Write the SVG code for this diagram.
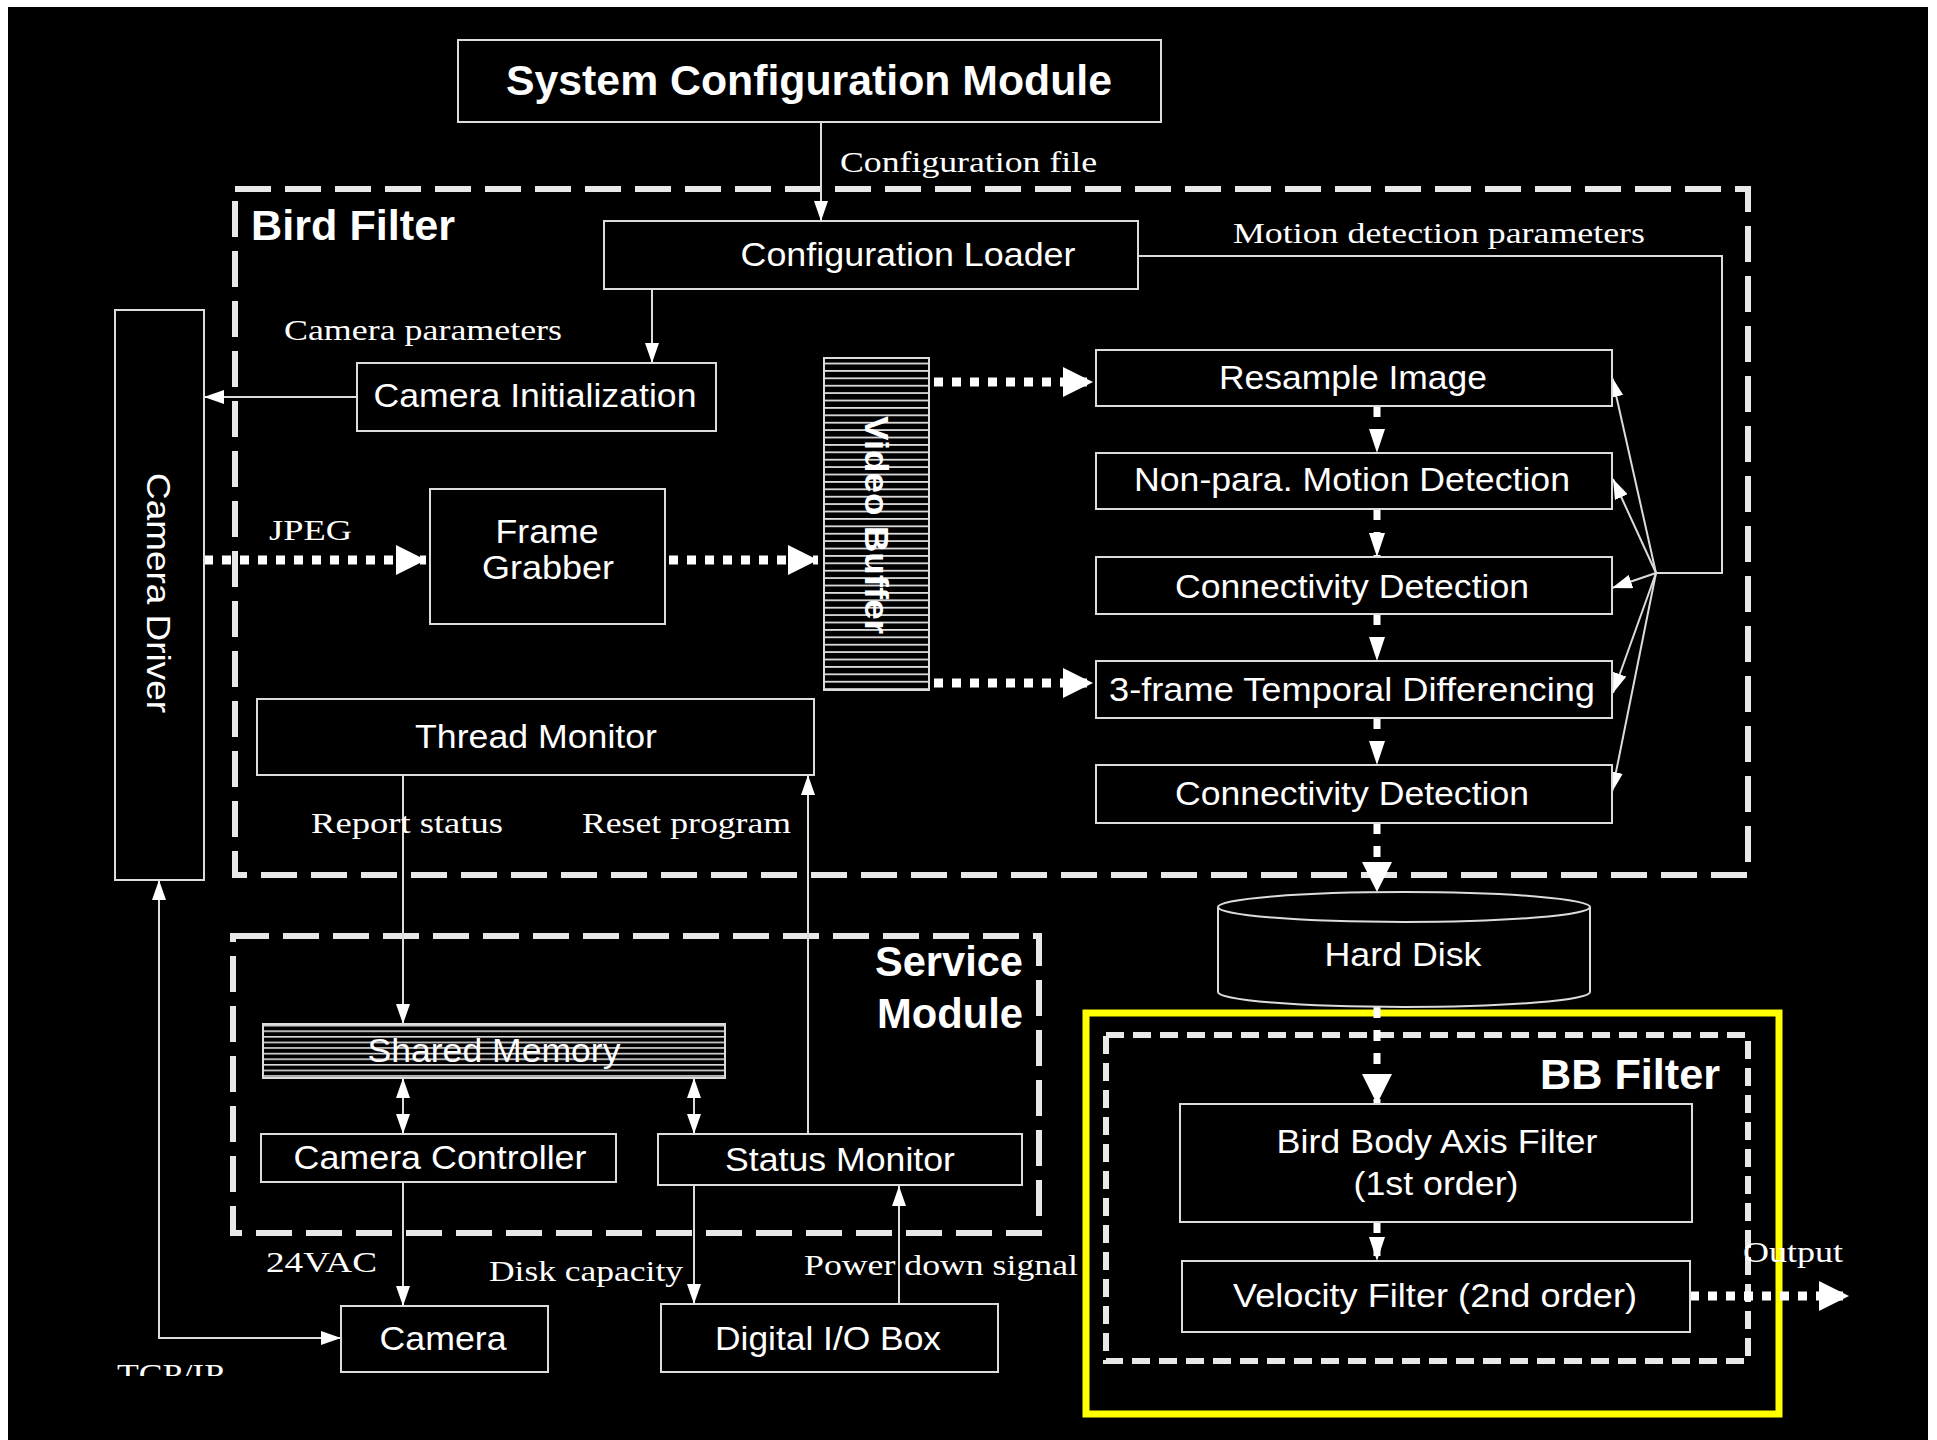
<svg xmlns="http://www.w3.org/2000/svg" width="1937" height="1440" viewBox="0 0 1937 1440">
<defs>
<style>
.box{fill:#000;stroke:#dcdcdc;stroke-width:2}
.ln{fill:none;stroke:#dcdcdc;stroke-width:2}
.t{font-family:"Liberation Sans",Arial,sans-serif;fill:#fff;font-size:33px;text-anchor:middle}
.s{font-family:"Liberation Serif","Times New Roman",serif;fill:#fff;font-size:30px}
.b{font-family:"Liberation Sans",Arial,sans-serif;fill:#fff;font-weight:bold;font-size:42px}
.dash{fill:none;stroke:#e8e8e8;stroke-width:6;stroke-dasharray:36 14}
.dashs{fill:none;stroke:#e8e8e8;stroke-width:6;stroke-dasharray:18 9}
.dots{fill:none;stroke:#fff;stroke-width:9;stroke-dasharray:9 9}
.vd{fill:none;stroke:#fff;stroke-width:7;stroke-dasharray:11 12}
</style>
<marker id="a" markerUnits="userSpaceOnUse" markerWidth="20" markerHeight="14" refX="20" refY="7" orient="auto-start-reverse"><path d="M0,0 L20,7 L0,14 z" fill="#fff"/></marker>
<marker id="A" markerUnits="userSpaceOnUse" markerWidth="30" markerHeight="30" refX="30" refY="15" orient="auto"><path d="M0,0 L30,15 L0,30 z" fill="#fff"/></marker>
<marker id="m" markerUnits="userSpaceOnUse" markerWidth="24" markerHeight="16" refX="24" refY="8" orient="auto"><path d="M0,0 L24,8 L0,16 z" fill="#fff"/></marker>
<pattern id="vbs" patternUnits="userSpaceOnUse" width="200" height="7.4"><rect width="200" height="1.8" fill="#dcdcdc"/></pattern>
<pattern id="sms" patternUnits="userSpaceOnUse" width="600" height="5.6"><rect width="600" height="1.6" fill="#dcdcdc"/></pattern>
<clipPath id="tcpclip"><rect x="0" y="0" width="400" height="1376"/></clipPath>
</defs>
<rect width="1937" height="1440" fill="#fff"/>
<rect x="8" y="7" width="1920" height="1433" fill="#000"/>

<g id="containers">
<rect id="bird-filter" class="dash" x="235" y="189" width="1513" height="686"/>
<rect id="service-module" class="dash" x="233" y="936" width="806" height="297"/>
<rect id="bb-filter" class="dashs" x="1106" y="1035" width="642" height="326"/>
<rect id="highlight" x="1086" y="1013" width="693" height="401" fill="none" stroke="#ffff00" stroke-width="7"/>
<text class="b" x="251" y="240" textLength="204" lengthAdjust="spacingAndGlyphs">Bird Filter</text>
<text class="b" x="1023" y="976" text-anchor="end" textLength="148" lengthAdjust="spacingAndGlyphs">Service</text>
<text class="b" x="1023" y="1028" text-anchor="end" textLength="146" lengthAdjust="spacingAndGlyphs">Module</text>
<text class="b" x="1540" y="1089" textLength="180" lengthAdjust="spacingAndGlyphs">BB Filter</text>
</g>

<g id="connectors">
<line class="ln" x1="821" y1="122" x2="821" y2="221" marker-end="url(#a)"/>
<line class="ln" x1="652" y1="289" x2="652" y2="363" marker-end="url(#a)"/>
<line class="ln" x1="357" y1="397" x2="204" y2="397" marker-end="url(#a)"/>
<polyline class="ln" points="1138,256 1722,256 1722,573 1656,573"/>
<line class="ln" x1="1656" y1="573" x2="1612" y2="377" marker-end="url(#a)"/>
<line class="ln" x1="1656" y1="573" x2="1613" y2="479" marker-end="url(#a)"/>
<line class="ln" x1="1656" y1="573" x2="1612" y2="588" marker-end="url(#a)"/>
<line class="ln" x1="1656" y1="573" x2="1613" y2="693" marker-end="url(#a)"/>
<line class="ln" x1="1656" y1="573" x2="1612" y2="792" marker-end="url(#a)"/>
<line class="dots" x1="204" y1="560" x2="426" y2="560" marker-end="url(#A)"/>
<line class="dots" x1="669" y1="560" x2="818" y2="560" marker-end="url(#A)"/>
<line class="dots" x1="934" y1="382" x2="1093" y2="382" marker-end="url(#A)"/>
<line class="dots" x1="934" y1="683" x2="1093" y2="683" marker-end="url(#A)"/>
<line class="dots" x1="1690" y1="1296" x2="1849" y2="1296" marker-end="url(#A)"/>
<line class="vd" x1="1377" y1="406" x2="1377" y2="453" marker-end="url(#m)"/>
<line class="vd" x1="1377" y1="509" x2="1377" y2="557" marker-end="url(#m)"/>
<line class="vd" x1="1377" y1="614" x2="1377" y2="661" marker-end="url(#m)"/>
<line class="vd" x1="1377" y1="718" x2="1377" y2="765" marker-end="url(#m)"/>
<line class="vd" x1="1377" y1="823" x2="1377" y2="892" marker-end="url(#A)"/>
<line class="vd" x1="1377" y1="1007" x2="1377" y2="1104" marker-end="url(#A)"/>
<line class="vd" x1="1377" y1="1222" x2="1377" y2="1261" marker-end="url(#m)"/>
<line class="ln" x1="403" y1="775" x2="403" y2="1024" marker-end="url(#a)"/>
<line class="ln" x1="808" y1="1134" x2="808" y2="775" marker-end="url(#a)"/>
<line class="ln" x1="403" y1="1078" x2="403" y2="1134" marker-start="url(#a)" marker-end="url(#a)"/>
<line class="ln" x1="694" y1="1078" x2="694" y2="1134" marker-start="url(#a)" marker-end="url(#a)"/>
<line class="ln" x1="403" y1="1182" x2="403" y2="1306" marker-end="url(#a)"/>
<line class="ln" x1="694" y1="1185" x2="694" y2="1304" marker-end="url(#a)"/>
<line class="ln" x1="899" y1="1304" x2="899" y2="1186" marker-end="url(#a)"/>
<path class="ln" d="M159,880 L159,1338 L341,1338" marker-start="url(#a)" marker-end="url(#a)"/>
<text class="s" x="840" y="172" textLength="257" lengthAdjust="spacingAndGlyphs">Configuration file</text>
<text class="s" x="1233" y="243" textLength="412" lengthAdjust="spacingAndGlyphs">Motion detection parameters</text>
<text class="s" x="284" y="340" textLength="278" lengthAdjust="spacingAndGlyphs">Camera parameters</text>
<text class="s" x="269" y="540" textLength="83" lengthAdjust="spacingAndGlyphs">JPEG</text>
<text class="s" x="311" y="833" textLength="192" lengthAdjust="spacingAndGlyphs">Report status</text>
<text class="s" x="582" y="833" textLength="209" lengthAdjust="spacingAndGlyphs">Reset program</text>
<text class="s" x="266" y="1272" textLength="111" lengthAdjust="spacingAndGlyphs">24VAC</text>
<text class="s" x="489" y="1281" textLength="194" lengthAdjust="spacingAndGlyphs">Disk capacity</text>
<text class="s" x="804" y="1275" textLength="274" lengthAdjust="spacingAndGlyphs">Power down signal</text>
<text class="s" x="1743" y="1262" textLength="100" lengthAdjust="spacingAndGlyphs">Output</text>
<text class="s" x="117" y="1384" textLength="107" lengthAdjust="spacingAndGlyphs" clip-path="url(#tcpclip)">TCP/IP</text>
</g>

<g id="system-configuration-module">
<rect class="box" x="458" y="40" width="703" height="82"/>
<text class="b" x="809" y="95" text-anchor="middle" font-size="40" textLength="606" lengthAdjust="spacingAndGlyphs">System Configuration Module</text>
</g>
<g id="configuration-loader">
<rect class="box" x="604" y="221" width="534" height="68"/>
<text class="t" x="908" y="266" textLength="335" lengthAdjust="spacingAndGlyphs">Configuration Loader</text>
</g>
<g id="camera-initialization">
<rect class="box" x="357" y="363" width="359" height="68"/>
<text class="t" x="535" y="407" textLength="323" lengthAdjust="spacingAndGlyphs">Camera Initialization</text>
</g>
<g id="camera-driver">
<rect class="box" x="115" y="310" width="89" height="570"/>
<text class="t" transform="translate(158,593) rotate(90)" x="0" y="0" dominant-baseline="central" font-size="36" textLength="240" lengthAdjust="spacingAndGlyphs">Camera Driver</text>
</g>
<g id="frame-grabber">
<rect class="box" x="430" y="489" width="235" height="135"/>
<text class="t" x="547" y="543" font-size="28" textLength="103" lengthAdjust="spacingAndGlyphs">Frame</text>
<text class="t" x="548" y="579" font-size="28" textLength="132" lengthAdjust="spacingAndGlyphs">Grabber</text>
</g>
<g id="video-buffer">
<rect x="824" y="358" width="105" height="332" fill="url(#vbs)" stroke="#dcdcdc" stroke-width="2"/>
<text class="t" transform="translate(876,525) rotate(90)" x="0" y="0" dominant-baseline="central" font-size="38" font-weight="bold" textLength="218" lengthAdjust="spacingAndGlyphs">Video Buffer</text>
</g>
<g id="resample-image">
<rect class="box" x="1096" y="350" width="516" height="56"/>
<text class="t" x="1353" y="389" textLength="268" lengthAdjust="spacingAndGlyphs">Resample Image</text>
</g>
<g id="non-para-motion-detection">
<rect class="box" x="1096" y="453" width="516" height="56"/>
<text class="t" x="1352" y="491" textLength="436" lengthAdjust="spacingAndGlyphs">Non-para. Motion Detection</text>
</g>
<g id="connectivity-detection-1">
<rect class="box" x="1096" y="557" width="516" height="57"/>
<text class="t" x="1352" y="598" textLength="354" lengthAdjust="spacingAndGlyphs">Connectivity Detection</text>
</g>
<g id="temporal-differencing">
<rect class="box" x="1096" y="661" width="516" height="57"/>
<text class="t" x="1352" y="701" textLength="486" lengthAdjust="spacingAndGlyphs">3-frame Temporal Differencing</text>
</g>
<g id="connectivity-detection-2">
<rect class="box" x="1096" y="765" width="516" height="58"/>
<text class="t" x="1352" y="805" textLength="354" lengthAdjust="spacingAndGlyphs">Connectivity Detection</text>
</g>
<g id="thread-monitor">
<rect class="box" x="257" y="699" width="557" height="76"/>
<text class="t" x="536" y="748" textLength="242" lengthAdjust="spacingAndGlyphs">Thread Monitor</text>
</g>
<g id="shared-memory">
<rect x="263" y="1024" width="462" height="54" fill="url(#sms)" stroke="#dcdcdc" stroke-width="2"/>
<text class="t" x="494" y="1062" textLength="253" lengthAdjust="spacingAndGlyphs">Shared Memory</text>
</g>
<g id="camera-controller">
<rect class="box" x="261" y="1134" width="355" height="48"/>
<text class="t" x="440" y="1169" textLength="293" lengthAdjust="spacingAndGlyphs">Camera Controller</text>
</g>
<g id="status-monitor">
<rect class="box" x="658" y="1134" width="364" height="51"/>
<text class="t" x="840" y="1171" textLength="230" lengthAdjust="spacingAndGlyphs">Status Monitor</text>
</g>
<g id="camera">
<rect class="box" x="341" y="1306" width="207" height="66"/>
<text class="t" x="443" y="1350" textLength="127" lengthAdjust="spacingAndGlyphs">Camera</text>
</g>
<g id="digital-io-box">
<rect class="box" x="661" y="1304" width="337" height="68"/>
<text class="t" x="828" y="1350" textLength="226" lengthAdjust="spacingAndGlyphs">Digital I/O Box</text>
</g>
<g id="hard-disk">
<path d="M1218,907 L1218,992 A186,15 0 0 0 1590,992 L1590,907" fill="#000" stroke="#dcdcdc" stroke-width="2"/>
<ellipse cx="1404" cy="907" rx="186" ry="15" fill="#000" stroke="#dcdcdc" stroke-width="2"/>
<text class="t" x="1403" y="966" textLength="157" lengthAdjust="spacingAndGlyphs">Hard Disk</text>
</g>
<g id="bird-body-axis-filter">
<rect class="box" x="1180" y="1104" width="512" height="118"/>
<text class="t" x="1437" y="1153" textLength="321" lengthAdjust="spacingAndGlyphs">Bird Body Axis Filter</text>
<text class="t" x="1436" y="1195" textLength="165" lengthAdjust="spacingAndGlyphs">(1st order)</text>
</g>
<g id="velocity-filter">
<rect class="box" x="1182" y="1261" width="508" height="71"/>
<text class="t" x="1435" y="1307" textLength="404" lengthAdjust="spacingAndGlyphs">Velocity Filter (2nd order)</text>
</g>
</svg>
